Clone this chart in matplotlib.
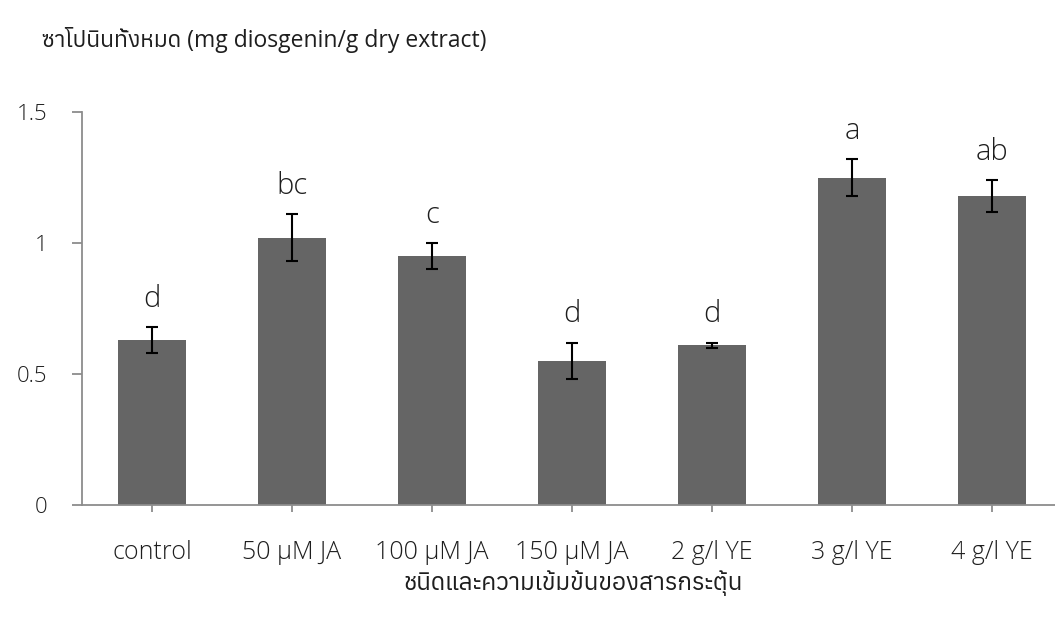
import matplotlib
matplotlib.use('Agg')
import matplotlib.pyplot as plt
from matplotlib import font_manager
import numpy as np

categories = ['control', '50 µM JA', '100 µM JA', '150 µM JA', '2 g/l YE', '3 g/l YE', '4 g/l YE']
saponin = [0.63, 1.02, 0.95, 0.55, 0.61, 1.25, 1.18]
sd = [0.05, 0.09, 0.05, 0.07, 0.01, 0.07, 0.06]
letters = ['d', 'bc', 'c', 'd', 'd', 'a', 'ab']
y_ticks = [0, 0.5, 1, 1.5]
y_tick_labels = ['0', '0.5', '1', '1.5']

# find a regular-weight font that has Thai glyphs, if there is one
thai_font = None
try:
    from fontTools.ttLib import TTFont
    cands = []
    for f in font_manager.fontManager.ttflist:
        try:
            tt = TTFont(f.fname, fontNumber=0, lazy=True)
            if 0x0E0A in tt.getBestCmap():
                cands.append((f.weight not in (400, 'normal', 'regular', 'book'),
                              f.style != 'normal', f.name))
        except Exception:
            pass
    if cands:
        thai_font = sorted(cands)[0][2]
except Exception:
    pass

fams = ['Open Sans', 'DejaVu Sans']
if thai_font:
    fams = ['Open Sans', thai_font, 'DejaVu Sans']
plt.rcParams['font.family'] = fams
plt.rcParams['font.weight'] = 'light'

txt = '#1e1e1e'
fig = plt.figure(figsize=(10.55, 6.21), dpi=100)
ax = fig.add_axes([82 / 1055, 116 / 621, 980 / 1055, 393 / 621])

x = np.arange(len(categories))
ax.bar(x, saponin, width=0.48, color='#656565', zorder=2)
ax.errorbar(x, saponin, yerr=sd, fmt='none', ecolor='black', elinewidth=1.5,
            capsize=4.5, capthick=1.5, zorder=3)

for i in range(len(categories)):
    ax.text(x[i], saponin[i] + sd[i] + 0.05, letters[i], ha='center', va='bottom',
            fontsize=21, color=txt)

ax.set_xlim(-0.5, 6.5)
ax.set_ylim(0, 1.5)
ax.set_yticks(y_ticks)
ax.set_yticklabels(y_tick_labels)
ax.set_xticks(x)
ax.set_xticklabels(categories)

for s in ['top', 'right']:
    ax.spines[s].set_visible(False)
for s in ['left', 'bottom']:
    ax.spines[s].set_color('#8c8c8c')
    ax.spines[s].set_linewidth(1.3)

ax.tick_params(axis='y', length=7, width=1.3, color='#8c8c8c', pad=18,
               labelsize=16, labelcolor=txt)
ax.tick_params(axis='x', length=5, width=1.3, color='#8c8c8c', pad=20,
               labelsize=18, labelcolor=txt)

# Thai glyphs only come in regular weight
fig.text(42 / 1055, 1 - 40 / 621, 'ซาโปนินทั้งหมด (mg diosgenin/g dry extract)',
         ha='left', va='center', fontsize=16.5, color=txt, fontweight='normal')
fig.text(573 / 1055, 1 - 583 / 621, 'ชนิดและความเข้มข้นของสารกระตุ้น',
         ha='center', va='center', fontsize=17.5, color=txt, fontweight='normal')

plt.savefig('out.png', dpi=100)
